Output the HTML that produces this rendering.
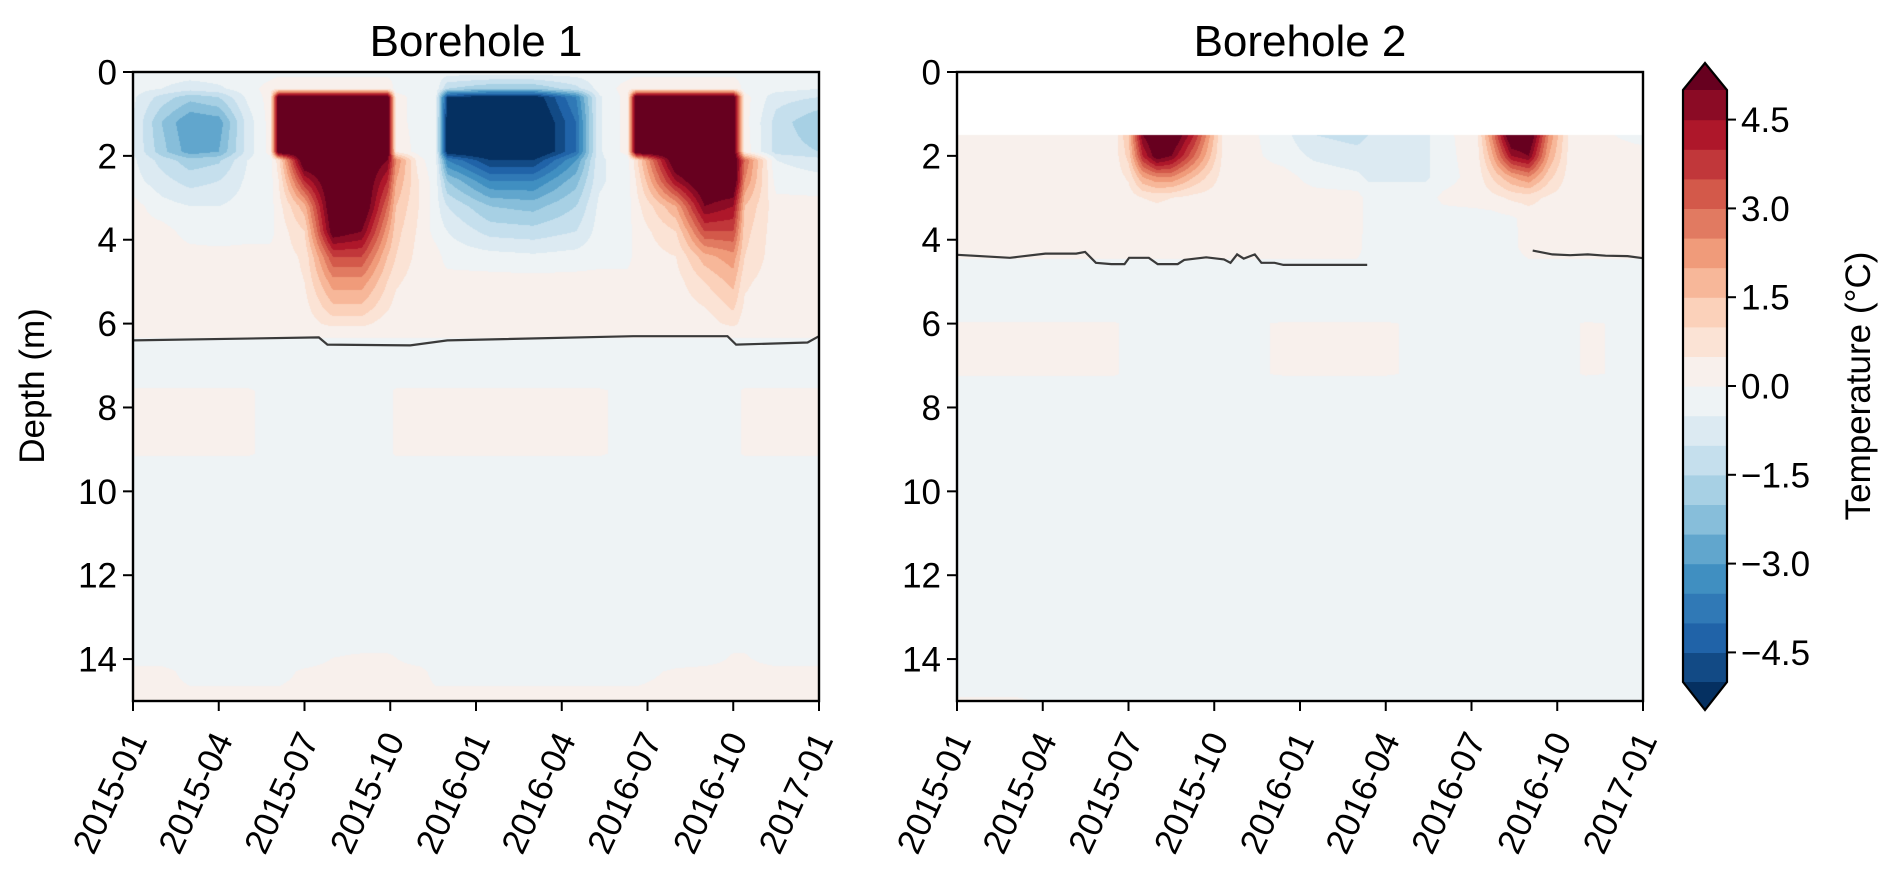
<!DOCTYPE html>
<html><head><meta charset="utf-8"><style>
html,body{margin:0;padding:0;background:#fff;}
#wrap{position:relative;width:1892px;height:884px;overflow:hidden;font-family:"Liberation Sans",Arial,sans-serif;}
canvas{position:absolute;}
svg{position:absolute;left:0;top:0;}
</style></head><body>
<div id="wrap">
<canvas id="c1" width="686" height="629" style="left:133px;top:72px"></canvas>
<canvas id="c2" width="686" height="629" style="left:957px;top:72px"></canvas>
<svg id="s" width="1892" height="884"></svg>
</div>
<script>
// ---------- data (months since 2015-01, depth in m, temperature °C) ----------
const xTickLabels = ["2015-01","2015-04","2015-07","2015-10","2016-01","2016-04","2016-07","2016-10","2017-01"];
const xTickMonths = [0,3,6,9,12,15,18,21,24];
const yTicks = [0,2,4,6,8,10,12,14];
const cbTicks = [4.5,3.0,1.5,0.0,-1.5,-3.0,-4.5];
const cbTickLabels = ["4.5","3.0","1.5","0.0","\u22121.5","\u22123.0","\u22124.5"];

const t1 = [0,1,2,3,4,4.8,5.1,6,7,8,8.9,9.2,10,10.6,11,12.5,14,15.5,16.3,17.3,17.6,19,20,21,21.4,22.5,24];
const d1 = [0,0.4,0.6,1.2,1.9,2.1,2.6,3.2,3.8,4.4,5.0,5.6,6.0,6.2,6.6,7.3,7.6,9.1,9.4,13.5,13.9,14.3,15];
const v1 = [
[-0.2,-0.2,-0.2,-0.2,-0.2,-0.2,-0.2,-0.2,-0.2,-0.2,-0.2,-0.2,-0.2,-0.2,-0.2,-0.2,-0.2,-0.2,-0.2,-0.2,-0.2,-0.2,-0.2,-0.2,-0.2,-0.2,-0.2],
[-0.3,-0.5,-0.8,-0.6,-0.2,0.2,0.5,0.5,0.5,0.5,0.5,-0.2,-0.2,-0.2,-1.5,-2,-2,-1.2,-0.3,0.2,0.5,0.5,0.5,0.5,-0.2,-0.3,-0.5],
[-0.4,-1.2,-1.8,-1.5,-0.4,0.2,6,6,6,6,6,0.2,-0.2,-0.4,-5,-5.5,-5.5,-3.5,-0.6,0.2,6,6,6,6,0.2,-0.8,-1],
[-0.5,-2,-3,-2.8,-0.8,0.2,6,6,6,6,6,0.2,-0.2,-0.4,-5.5,-6,-6,-4,-0.6,0.2,6,6,6,6,0.2,-1.2,-2],
[-0.5,-1.8,-2.8,-2.5,-0.8,0.2,6,6,6,6,6,0.4,-0.2,-0.4,-5.5,-6,-6,-4,-0.6,0.2,6,6,6,6,0.3,-1.2,-1.5],
[-0.4,-1.2,-1.8,-1.6,-0.5,-0.2,0.8,6,6,6,5,2.5,0.2,-0.4,-3.5,-5,-5,-3,-0.6,-0.2,0.8,6,6,6,3,-0.5,-0.8],
[-0.3,-0.8,-1.2,-1.0,-0.4,-0.2,0.5,4,6,6,4,2,0.5,-0.3,-2,-3.5,-3.5,-2.2,-0.6,-0.2,0.5,4.5,6,6,2.5,-0.2,-0.3],
[0.2,-0.3,-0.5,-0.5,-0.3,-0.2,0.3,1.8,6,6,3,1.5,0.5,-0.3,-1,-2,-2.2,-1.5,-0.4,-0.2,0.3,2,5,4.5,1.5,0.2,0.2],
[0.2,0.2,-0.2,-0.3,-0.2,-0.2,0.2,1,5.5,5,2.2,1.2,0.4,-0.2,-0.5,-1.2,-1.3,-1,-0.3,-0.2,0.2,1,3.5,3.5,1.2,0.2,0.2],
[0.2,0.2,0.2,0.2,0.2,0.2,0.2,0.6,3.5,3.5,1.5,1,0.3,0.2,-0.2,-0.3,-0.4,-0.3,-0.2,-0.2,0.2,0.5,1.8,2.3,1,0.2,0.2],
[0.2,0.2,0.2,0.2,0.2,0.2,0.2,0.5,2.3,2.3,1,0.6,0.2,0.2,0.2,0.2,0.2,0.2,0.2,0.2,0.2,0.3,1,1.7,0.6,0.2,0.2],
[0.2,0.2,0.2,0.2,0.2,0.2,0.2,0.3,1.4,1.4,0.6,0.3,0.2,0.2,0.2,0.2,0.2,0.2,0.2,0.2,0.2,0.2,0.5,1.1,0.4,0.2,0.2],
[0.2,0.2,0.2,0.2,0.2,0.2,0.2,0.2,0.7,0.7,0.2,0.2,0.2,0.2,0.2,0.2,0.2,0.2,0.2,0.2,0.2,0.2,0.2,0.7,0.2,0.2,0.2],
[0.1,0.1,0.1,0.1,0.1,0.1,0.1,0.1,0.1,0.1,0.1,0.1,0.1,0.1,0.1,0.1,0.1,0.1,0.1,0.1,0.1,0.1,0.1,0.1,0.1,0.1,0.1],
[-0.2,-0.2,-0.2,-0.2,-0.2,-0.2,-0.2,-0.2,-0.2,-0.2,-0.2,-0.2,-0.2,-0.2,-0.2,-0.2,-0.2,-0.2,-0.2,-0.2,-0.2,-0.2,-0.2,-0.2,-0.2,-0.2,-0.2],
[-0.2,-0.2,-0.2,-0.2,-0.2,-0.2,-0.2,-0.2,-0.2,-0.2,-0.2,-0.2,-0.2,-0.2,-0.2,-0.2,-0.2,-0.2,-0.2,-0.2,-0.2,-0.2,-0.2,-0.2,-0.2,-0.2,-0.2],
[0.05,0.05,0.05,0.05,0.05,-0.1,-0.1,-0.1,-0.1,-0.1,-0.1,0.05,0.05,0.05,0.05,0.05,0.05,0.05,0.05,-0.1,-0.1,-0.1,-0.1,-0.1,0.05,0.05,0.05],
[0.05,0.05,0.05,0.05,0.05,-0.1,-0.1,-0.1,-0.1,-0.1,-0.1,0.05,0.05,0.05,0.05,0.05,0.05,0.05,0.05,-0.1,-0.1,-0.1,-0.1,-0.1,0.05,0.05,0.05],
[-0.2,-0.2,-0.2,-0.2,-0.2,-0.2,-0.2,-0.2,-0.2,-0.2,-0.2,-0.2,-0.2,-0.2,-0.2,-0.2,-0.2,-0.2,-0.2,-0.2,-0.2,-0.2,-0.2,-0.2,-0.2,-0.2,-0.2],
[-0.2,-0.2,-0.2,-0.2,-0.2,-0.2,-0.2,-0.2,-0.2,-0.2,-0.2,-0.2,-0.2,-0.2,-0.2,-0.2,-0.2,-0.2,-0.2,-0.2,-0.2,-0.2,-0.2,-0.2,-0.2,-0.2,-0.2],
[-0.2,-0.2,-0.2,-0.2,-0.2,-0.2,-0.2,-0.2,-0.02,0.02,0.02,-0.02,-0.2,-0.2,-0.2,-0.2,-0.2,-0.2,-0.2,-0.2,-0.2,-0.2,-0.2,0.02,0.02,-0.2,-0.2],
[0.1,0.1,-0.1,-0.1,-0.1,-0.1,-0.1,0.05,0.1,0.1,0.1,0.1,0.1,-0.1,-0.1,-0.1,-0.1,-0.1,-0.1,-0.1,-0.1,0.05,0.1,0.1,0.1,0.1,0.1],
[0.1,0.1,0.1,0.1,0.1,0.1,0.1,0.1,0.1,0.1,0.1,0.1,0.1,0.1,0.1,0.1,0.1,0.1,0.1,0.1,0.1,0.1,0.1,0.1,0.1,0.1,0.1]
];
const c1Months = [0,6.5,6.8,9.7,11,17.5,20.8,21.1,23.6,24];
const c1Depths = [6.4,6.33,6.5,6.52,6.4,6.3,6.3,6.5,6.45,6.3];

const t2 = [0,2,4,5.5,6,6.5,7,7.5,8.3,9.3,10,11.4,12.5,14,14.4,15,16.4,17,18.2,18.7,19.4,20,20.7,21.4,22,24];
const d2 = [1.5,2.0,2.5,3.0,3.5,4.2,4.8,5.8,6.0,7.2,7.4,14.5,15];
const v2 = [
[0.2,0.2,0.2,0.2,1.5,5,6,6,4,0.4,0.2,-0.3,-1,-1.2,-1,-0.8,-0.6,-0.2,0.4,2.5,6,6,2.5,0.4,0.2,-0.2],
[0.2,0.2,0.2,0.2,1.2,4,5.5,5,3,0.4,0.2,-0.2,-0.6,-0.8,-0.7,-0.6,-0.6,-0.2,0.3,1.8,4.5,5,2,0.4,0.2,0.2],
[0.2,0.2,0.2,0.2,0.6,2,2.5,2.5,1.5,0.3,0.2,0.2,-0.2,-0.4,-0.6,-0.6,-0.6,-0.2,0.2,1,2,2.5,1.2,0.3,0.2,0.2],
[0.2,0.2,0.2,0.2,0.2,0.5,0.6,0.5,0.3,0.2,0.2,0.2,0.2,0.2,-0.2,-0.2,-0.2,0.1,0.2,0.3,0.6,0.7,0.4,0.2,0.2,0.2],
[0.2,0.2,0.2,0.2,0.2,0.2,0.2,0.2,0.2,0.2,0.2,0.2,0.2,0.2,-0.2,-0.2,-0.2,-0.2,-0.2,-0.2,-0.1,0.2,0.2,0.2,0.2,0.2],
[0.15,0.15,0.15,0.15,0.15,0.15,0.15,0.15,0.15,0.15,0.15,0.15,0.15,0.15,-0.2,-0.2,-0.2,-0.2,-0.2,-0.2,-0.1,0.15,0.15,0.15,0.15,0.15],
[-0.2,-0.2,-0.2,-0.2,-0.2,-0.2,-0.2,-0.2,-0.2,-0.2,-0.2,-0.2,-0.2,-0.2,-0.2,-0.2,-0.2,-0.2,-0.2,-0.2,-0.2,-0.2,-0.2,-0.2,-0.2,-0.2],
[-0.2,-0.2,-0.2,-0.2,-0.2,-0.2,-0.2,-0.2,-0.2,-0.2,-0.2,-0.2,-0.2,-0.2,-0.2,-0.2,-0.2,-0.2,-0.2,-0.2,-0.2,-0.2,-0.2,-0.2,-0.2,-0.2],
[0.05,0.05,0.05,0.05,-0.1,-0.1,-0.1,-0.1,-0.1,-0.1,-0.1,0.05,0.05,0.05,0.05,0.05,-0.1,-0.1,-0.1,-0.1,-0.1,-0.1,-0.1,-0.1,0.05,-0.1],
[0.05,0.05,0.05,0.05,-0.1,-0.1,-0.1,-0.1,-0.1,-0.1,-0.1,0.05,0.05,0.05,0.05,0.05,-0.1,-0.1,-0.1,-0.1,-0.1,-0.1,-0.1,-0.1,0.05,-0.1],
[-0.2,-0.2,-0.2,-0.2,-0.2,-0.2,-0.2,-0.2,-0.2,-0.2,-0.2,-0.2,-0.2,-0.2,-0.2,-0.2,-0.2,-0.2,-0.2,-0.2,-0.2,-0.2,-0.2,-0.2,-0.2,-0.2],
[-0.2,-0.2,-0.2,-0.2,-0.2,-0.2,-0.2,-0.2,-0.2,-0.2,-0.2,-0.2,-0.2,-0.2,-0.2,-0.2,-0.2,-0.2,-0.2,-0.2,-0.2,-0.2,-0.2,-0.2,-0.2,-0.2],
[0.05,0.05,-0.1,-0.1,-0.1,-0.1,-0.1,-0.1,-0.1,-0.1,-0.1,-0.1,-0.1,-0.1,-0.1,-0.1,-0.1,-0.1,-0.1,-0.1,-0.1,-0.1,-0.1,-0.1,-0.1,-0.1]
];
const c2aMonths = [0,1.85,3.09,4.17,4.48,4.86,5.4,5.86,6.02,6.71,7.02,7.72,7.95,8.72,9.34,9.57,9.8,10.03,10.42,10.65,11.11,11.42,14.35];
const c2aDepths = [4.36,4.43,4.33,4.33,4.29,4.55,4.58,4.58,4.43,4.43,4.58,4.58,4.48,4.42,4.47,4.55,4.35,4.45,4.35,4.55,4.55,4.6,4.6];
const c2bMonths = [20.14,20.83,21.45,22.07,22.69,23.46,24];
const c2bDepths = [4.26,4.35,4.37,4.35,4.38,4.39,4.44];

// ---------- layout ----------
const PT = 72, PB = 701, PW = 686;
const AX = [133, 957];
const TMAX = 24, DMAX = 15;
const FS = 35;
function xs(i, m){ return AX[i] + m / TMAX * PW; }
function ys(d){ return PT + d / DMAX * (PB - PT); }

const anchors = ["#053061","#2166ac","#4393c3","#92c5de","#d1e5f0","#f7f7f7","#fddbc7","#f4a582","#d6604d","#b2182b","#67001f"];
function hex(h){ return [parseInt(h.substr(1,2),16),parseInt(h.substr(3,2),16),parseInt(h.substr(5,2),16)]; }
function cmap(p){ const s=p*10, i=Math.min(9,Math.floor(s)), f=s-i; const a=hex(anchors[i]), b=hex(anchors[i+1]); return [0,1,2].map(k=>Math.round(a[k]+(b[k]-a[k])*f)); }
const binColors = [];
for(let k=0;k<22;k++) binColors.push(cmap(k/21));
function colorFor(v){ if(v<-5) return binColors[0]; if(v>=5) return binColors[21]; return binColors[1+Math.min(19,Math.floor((v+5)/0.5))]; }

function locate(arr, x){ let i=0; while(i<arr.length-2 && x>arr[i+1]) i++; const f=Math.max(0,Math.min(1,(x-arr[i])/(arr[i+1]-arr[i]))); return [i,f]; }
function field(t, d, v, m, dep){
  const [i,fi]=locate(t,m), [j,fj]=locate(d,dep);
  const a=v[j][i], b=v[j][i+1], c=v[j+1][i], e=v[j+1][i+1];
  return (a*(1-fi)+b*fi)*(1-fj)+(c*(1-fi)+e*fi)*fj;
}
function paint(id, t, d, v, dmin){
  const cv=document.getElementById(id), ctx=cv.getContext('2d');
  const img=ctx.createImageData(cv.width, cv.height);
  for(let py=0;py<cv.height;py++){
    const dep=(py+0.5)/cv.height*DMAX;
    for(let px=0;px<cv.width;px++){
      const o=(py*cv.width+px)*4;
      if(dep<dmin){ img.data[o]=255;img.data[o+1]=255;img.data[o+2]=255;img.data[o+3]=255; continue; }
      const m=(px+0.5)/cv.width*TMAX;
      const c=colorFor(field(t,d,v,m,dep));
      img.data[o]=c[0];img.data[o+1]=c[1];img.data[o+2]=c[2];img.data[o+3]=255;
    }
  }
  ctx.putImageData(img,0,0);
}
paint('c1', t1, d1, v1, 0);
paint('c2', t2, d2, v2, 1.5);

const NS="http://www.w3.org/2000/svg";
const svg=document.getElementById('s');
function el(tag, attrs, parent){ const e=document.createElementNS(NS,tag); for(const k in attrs) e.setAttribute(k,attrs[k]); (parent||svg).appendChild(e); return e; }

function contour(i, ms, ds, name){
  const pts = ms.map((m,k)=>xs(i,m).toFixed(1)+","+ys(ds[k]).toFixed(1)).join(" ");
  const p = el('polyline',{points:pts,fill:'none',stroke:'#3a3a3a','stroke-width':2.2});
  
  
}
contour(0, c1Months, c1Depths, 'zero-isotherm-borehole-1');
contour(1, c2aMonths, c2aDepths, 'zero-isotherm-borehole-2-a');
contour(1, c2bMonths, c2bDepths, 'zero-isotherm-borehole-2-b');

const titles = ["Borehole 1","Borehole 2"];
for(let i=0;i<2;i++){
  const g = el('g',{});
  
  
  const fr = el('rect',{x:AX[i],y:PT,width:PW,height:PB-PT,fill:'none',stroke:'#000','stroke-width':2.4},g);
  
  
  const tt = el('text',{x:AX[i]+PW/2,y:56,'text-anchor':'middle','font-size':44,fill:'#000'},g);
  tt.textContent = titles[i];
  
  
  yTicks.forEach(d=>{
    const y=ys(d);
    const tk = el('line',{x1:AX[i]-10,x2:AX[i],y1:y,y2:y,stroke:'#000','stroke-width':2},g);
    
    
    const tl = el('text',{x:AX[i]-16,y:y+12.5,'text-anchor':'end','font-size':FS,fill:'#000'},g);
    tl.textContent = String(d);
    
    
  });
  xTickMonths.forEach((m,k)=>{
    const x=xs(i,m);
    const tk = el('line',{x1:x,x2:x,y1:PB,y2:PB+10,stroke:'#000','stroke-width':2},g);
    
    
    const tl = el('text',{transform:'translate('+(x-8)+','+(PB+28)+') rotate(-65)','text-anchor':'end','font-size':FS,dy:'0.72em',fill:'#000'},g);
    tl.textContent = xTickLabels[k];
    
    
  });
}
const yl = el('text',{transform:'translate(44,386) rotate(-90)','text-anchor':'middle','font-size':FS,fill:'#000'});
yl.textContent = "Depth (m)";



const CX=1683, CW=44, CT=90, CBt=682;
const cb = el('g',{});


const binH=(CBt-CT)/20;
for(let k=0;k<20;k++){
  const c=binColors[k+1];
  const r = el('rect',{x:CX,y:CBt-(k+1)*binH,width:CW,height:binH+0.6,fill:'rgb('+c.join(',')+')'},cb);
  
  
}
const over = el('polygon',{points:CX+','+CT+' '+(CX+CW)+','+CT+' '+(CX+CW/2)+','+(CT-27),fill:'rgb('+binColors[21].join(',')+')'},cb);


const under = el('polygon',{points:CX+','+CBt+' '+(CX+CW)+','+CBt+' '+(CX+CW/2)+','+(CBt+28),fill:'rgb('+binColors[0].join(',')+')'},cb);


const outline = el('polygon',{points:CX+','+CT+' '+(CX+CW/2)+','+(CT-27)+' '+(CX+CW)+','+CT+' '+(CX+CW)+','+CBt+' '+(CX+CW/2)+','+(CBt+28)+' '+CX+','+CBt,fill:'none',stroke:'#000','stroke-width':2.2},cb);


cbTicks.forEach((v,k)=>{
  const y=CBt-(v+5)/10*(CBt-CT);
  const tk = el('line',{x1:CX+CW,x2:CX+CW+9,y1:y,y2:y,stroke:'#000','stroke-width':2},cb);
  
  
  const tl = el('text',{x:CX+CW+14,y:y+12.5,'font-size':FS,fill:'#000'},cb);
  tl.textContent = cbTickLabels[k];
  
  
});
const cbl = el('text',{transform:'translate(1870,386) rotate(-90)','text-anchor':'middle','font-size':FS,fill:'#000'},cb);
cbl.textContent = "Temperature (\u00b0C)";


</script>
</body></html>
